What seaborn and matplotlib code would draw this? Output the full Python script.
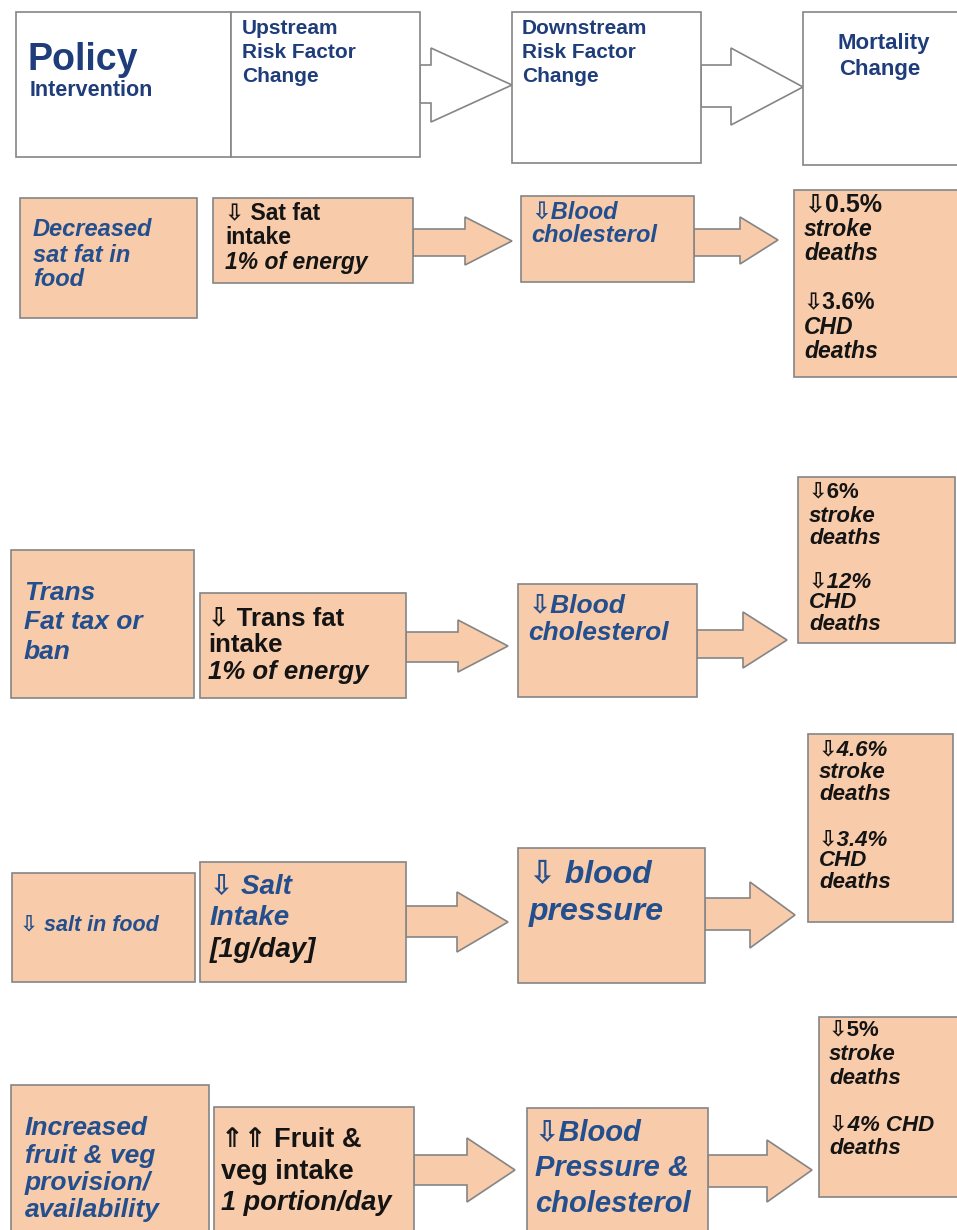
import matplotlib
matplotlib.use("Agg")
import matplotlib.pyplot as plt
from matplotlib.patches import Rectangle, Polygon
import seaborn as sns

# ---- content of the diagram ----
header_policy = ["Policy", "Intervention"]
header_upstream = ["Upstream", "Risk Factor", "Change"]
header_downstream = ["Downstream", "Risk Factor", "Change"]
header_mortality = ["Mortality", "Change"]

policy_lines = [
    ["Decreased", "sat fat in", "food"],
    ["Trans", "Fat tax or", "ban"],
    ["\u21e9 salt in food"],
    ["Increased", "fruit & veg", "provision/", "availability"],
]
upstream_lines = [
    ["\u21e9 Sat fat", "intake", "1% of energy"],
    ["\u21e9 Trans fat", "intake", "1% of energy"],
    ["\u21e9 Salt", "Intake", "[1g/day]"],
    ["\u21d1\u21d1 Fruit &", "veg intake", "1 portion/day"],
]
downstream_lines = [
    ["\u21e9Blood", "cholesterol"],
    ["\u21e9Blood", "cholesterol"],
    ["\u21e9 blood", "pressure"],
    ["\u21e9Blood", "Pressure &", "cholesterol"],
]
stroke_change = ["0.5%", "6%", "4.6%", "5%"]
chd_change = ["3.6%", "12%", "3.4%", "4%"]

# ---- styling ----
FONTS = ["Liberation Sans", "DejaVu Sans"]
NAVY = "#1f3d7a"
BLUE = "#234f8e"
INK = "#141414"
PEACH = "#f8cbaa"
EDGE = "#858585"

sns.set_theme(style="white")
plt.rcParams["font.family"] = FONTS

fig = plt.figure(figsize=(9.57, 12.30), dpi=100)
ax = fig.add_axes([0, 0, 1, 1])
ax.set_xlim(0, 957)
ax.set_ylim(1230, 0)
ax.axis("off")


def box(x, y, w, h, fc=PEACH, z=2):
    ax.add_patch(Rectangle((x, y), w, h, facecolor=fc, edgecolor=EDGE, lw=1.2, zorder=z))


def arrow(x0, xh, xt, ys0, ys1, yh0, yh1, yt, fc=PEACH):
    pts = [(x0, ys0), (xh, ys0), (xh, yh0), (xt, yt), (xh, yh1), (xh, ys1), (x0, ys1)]
    ax.add_patch(Polygon(pts, closed=True, facecolor=fc, edgecolor=EDGE, lw=1.2, zorder=1))


def write(x, ys, texts, fs, colors, italics, weight="bold", ha="left"):
    for y, t, c, it in zip(ys, texts, colors, italics):
        ax.text(x, y, t, ha=ha, va="center", fontsize=fs, color=c,
                fontweight=weight, fontstyle="italic" if it else "normal",
                family=FONTS, zorder=5)


# ---- header row ----
arrow(420, 431, 512, 65, 103, 48, 122, 85, fc="white")
arrow(701, 731, 803, 65, 107, 48, 125, 87, fc="white")
box(16, 12, 215, 145, fc="white")
box(231, 12, 189, 145, fc="white")
box(512, 12, 189, 151, fc="white")
box(803, 12, 170, 153, fc="white")
write(28, [60], header_policy[:1], 27, [NAVY], [False])
write(30, [90], header_policy[1:], 15.5, [NAVY], [False])
write(242, [29, 53, 77], header_upstream, 15, [NAVY] * 3, [False] * 3)
write(522, [29, 53, 77], header_downstream, 15, [NAVY] * 3, [False] * 3)
write(884, [44], header_mortality[:1], 16, [NAVY], [False], ha="center")
write(880, [70], header_mortality[1:], 16, [NAVY], [False], ha="center")

# ---- per-row layout ----
rows = [
    dict(pol=(20, 198, 177, 120), pol_xy=(33, [230, 255, 280]), pol_fs=17,
         up=(213, 198, 200, 85), up_xy=(225, [213, 237, 262]), up_fs=16.5,
         up_col=[INK, INK, INK], up_it=[False, False, True],
         a1=(413, 465, 512, 229, 256, 217, 265, 241),
         dn=(521, 196, 173, 86), dn_xy=(531, [212, 236]), dn_fs=17,
         a2=(694, 740, 778, 229, 256, 217, 264, 240),
         mo=(794, 190, 180, 187), mo_xy=(804, [204, 230, 254, 302, 327, 351]), mo_fs=16.5,
         mo_it=[False, True, True, False, True, True]),
    dict(pol=(11, 550, 183, 148), pol_xy=(24, [593, 622, 652]), pol_fs=19,
         up=(200, 593, 206, 105), up_xy=(208, [618, 645, 672]), up_fs=18.5,
         up_col=[INK, INK, INK], up_it=[False, False, True],
         a1=(406, 458, 508, 632, 662, 620, 672, 646),
         dn=(518, 584, 179, 113), dn_xy=(528, [605, 633]), dn_fs=19,
         a2=(697, 743, 787, 630, 658, 612, 668, 640),
         mo=(798, 477, 157, 166), mo_xy=(809, [492, 516, 538, 582, 603, 625]), mo_fs=16,
         mo_it=[False, True, True, True, True, True]),
    dict(pol=(12, 873, 183, 109), pol_xy=(20, [925]), pol_fs=15.5,
         up=(200, 862, 206, 120), up_xy=(210, [887, 918, 950]), up_fs=20,
         up_col=[BLUE, BLUE, INK], up_it=[True, True, True],
         a1=(406, 457, 508, 906, 937, 892, 952, 922),
         dn=(518, 848, 187, 135), dn_xy=(529, [875, 912]), dn_fs=23,
         a2=(705, 750, 795, 898, 930, 882, 948, 915),
         mo=(808, 734, 145, 188), mo_xy=(819, [750, 773, 795, 840, 861, 882]), mo_fs=16,
         mo_it=[True, True, True, True, True, True]),
    dict(pol=(11, 1085, 198, 160), pol_xy=(25, [1128, 1156, 1183, 1210]), pol_fs=19,
         up=(214, 1107, 200, 140), up_xy=(221, [1140, 1172, 1203]), up_fs=19.5,
         up_col=[INK, INK, INK], up_it=[False, False, True],
         a1=(414, 467, 515, 1155, 1185, 1138, 1202, 1170),
         dn=(527, 1108, 181, 140), dn_xy=(535, [1132, 1168, 1204]), dn_fs=21,
         a2=(708, 767, 812, 1155, 1187, 1140, 1202, 1170),
         mo=(819, 1017, 150, 180), mo_xy=(829, [1030, 1055, 1078, 1125, 1149]), mo_fs=16,
         mo_it=[False, True, True, True, True]),
]

for i, r in enumerate(rows):
    arrow(*r["a1"])
    arrow(*r["a2"])
    box(*r["pol"])
    box(*r["up"])
    box(*r["dn"])
    box(*r["mo"])

    px, pys = r["pol_xy"]
    write(px, pys, policy_lines[i], r["pol_fs"], [BLUE] * 4, [True] * 4)
    ux, uys = r["up_xy"]
    write(ux, uys, upstream_lines[i], r["up_fs"], r["up_col"], r["up_it"])
    dx, dys = r["dn_xy"]
    write(dx, dys, downstream_lines[i], r["dn_fs"], [BLUE] * 3, [True] * 3)

    if i == 3:
        mort = ["\u21e9" + stroke_change[i], "stroke", "deaths",
                "\u21e9" + chd_change[i] + " CHD", "deaths"]
    else:
        mort = ["\u21e9" + stroke_change[i], "stroke", "deaths",
                "\u21e9" + chd_change[i], "CHD", "deaths"]
    mx, mys = r["mo_xy"]
    fs_list = [r["mo_fs"]] * len(mort)
    if i == 0:
        fs_list[0] = 18
    for y, t, it, fs in zip(mys, mort, r["mo_it"], fs_list):
        write(mx, [y], [t], fs, [INK], [it])

fig.savefig("out.png", dpi=100)
